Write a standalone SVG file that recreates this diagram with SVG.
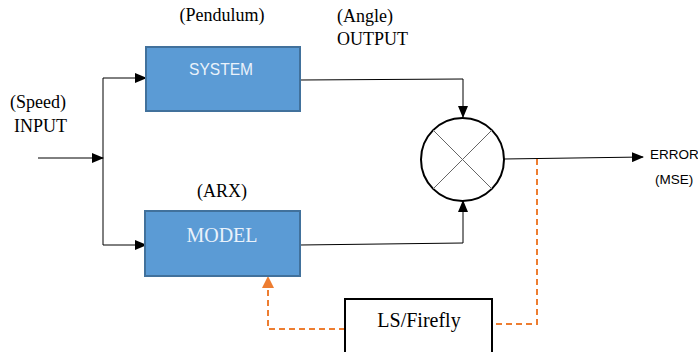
<svg xmlns="http://www.w3.org/2000/svg" width="698" height="352" viewBox="0 0 698 352">
<defs>
<style>
.serif{font-family:"Liberation Serif","Times New Roman",serif;fill:#000}
.sans{font-family:"Liberation Sans",Arial,sans-serif}
.box{fill:#5B9BD5;stroke:#41719C;stroke-width:2}
.line{fill:none;stroke:#000;stroke-width:1}
.dash{fill:none;stroke:#ED7D31;stroke-width:2;stroke-dasharray:6,4}
</style>
<marker id="ah" markerWidth="12" markerHeight="10" refX="11" refY="5" orient="auto" markerUnits="userSpaceOnUse">
<path d="M0,0 L12,5 L0,10 Z" fill="#000"/>
</marker>
<marker id="ahO" markerWidth="12" markerHeight="12" refX="11" refY="6" orient="auto" markerUnits="userSpaceOnUse">
<path d="M0,0 L12,6 L0,12 Z" fill="#ED7D31"/>
</marker>
</defs>
<rect width="698" height="352" fill="#fff"/>

<g id="labels">
<text class="serif" x="222" y="21" font-size="18" text-anchor="middle">(Pendulum)</text>
<text class="serif" x="10" y="108" font-size="18">(Speed)</text>
<text class="serif" x="14" y="132" font-size="18">INPUT</text>
<text class="serif" x="337" y="22" font-size="18">(Angle)</text>
<text class="serif" x="337" y="45" font-size="18">OUTPUT</text>
<text class="serif" x="222" y="197" font-size="18" text-anchor="middle">(ARX)</text>
<text class="sans" x="650" y="159" font-size="13.5" fill="#000">ERROR</text>
<text class="sans" x="655" y="184" font-size="13.5" fill="#000">(MSE)</text>
</g>

<g id="connectors">
<path class="line" d="M38,158 H103" marker-end="url(#ah)"/>
<path class="line" d="M103,245 V78 H146" marker-end="url(#ah)"/>
<path class="line" d="M103,245 H146" marker-end="url(#ah)"/>
<path class="line" d="M300,80 L463,79 V117" marker-end="url(#ah)"/>
<path class="line" d="M300,245 L463,243 V201" marker-end="url(#ah)"/>
<path class="line" d="M504,159 L643,157" marker-end="url(#ah)"/>
<path class="dash" d="M537,159 V324 H493"/>
<path class="dash" d="M345,329 H268 V277" marker-end="url(#ahO)"/>
</g>

<g id="system">
<rect class="box" x="146" y="47" width="154" height="64"/>
<text class="sans" x="189" y="75" font-size="16.5" fill="#EAF2FB" textLength="64" lengthAdjust="spacingAndGlyphs">SYSTEM</text>
</g>

<g id="model">
<rect class="box" x="145" y="211" width="155" height="65"/>
<text class="serif" x="222" y="242" font-size="20" style="fill:#EAF2FB" text-anchor="middle">MODEL</text>
</g>

<g id="comparator">
<circle cx="462.5" cy="159.5" r="41.5" fill="#fff" stroke="#000" stroke-width="2"/>
<path d="M433,130 L492,189 M492,130 L433,189" stroke="#666" stroke-width="1" fill="none"/>
</g>

<g id="lsfirefly">
<rect x="345" y="299" width="147" height="60" fill="#fff" stroke="#000" stroke-width="2"/>
<text class="serif" x="419" y="327" font-size="20" text-anchor="middle">LS/Firefly</text>
</g>
</svg>
